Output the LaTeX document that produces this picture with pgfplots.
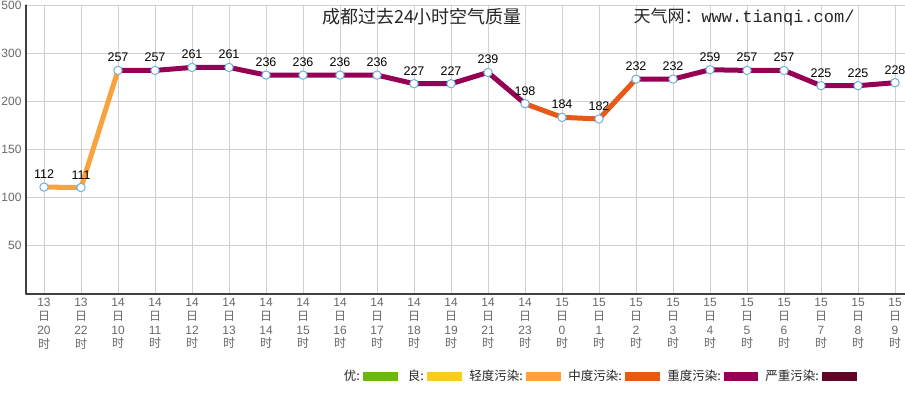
\documentclass[border=0pt]{standalone}
\usepackage{pgfplots}
\pgfplotsset{compat=1.18}
\usepackage{pgfplotstable}
\usepackage{fontspec}
\setmainfont{Liberation Sans}
\newfontfamily\cjk{Noto Sans CJK SC}
\newfontfamily\mono{Liberation Mono}
\definecolor{cGood}{RGB}{108,184,16}
\definecolor{cMod}{RGB}{250,204,30}
\definecolor{cLight}{RGB}{250,162,62}
\definecolor{cMid}{RGB}{232,88,22}
\definecolor{cHeavy}{RGB}{150,0,84}
\definecolor{cSevere}{RGB}{96,6,34}
\definecolor{cMark}{RGB}{110,176,222}
\definecolor{cTick}{RGB}{105,105,105}
\newcommand{\tl}[2]{#1\\{\cjk 日}\\#2\\{\cjk 时}}
% x: slot, y: plotted level, aqi: value label
\pgfplotstableread{
x y aqi
0 111 112
1 110.5 111
2 264.2 257
3 264.2 257
4 270.4 261
5 270.4 261
6 254.5 236
7 254.5 236
8 254.5 236
9 254.5 236
10 236.6 227
11 236.6 227
12 260 239
13 197.6 198
14 183.4 184
15 181.7 182
16 246.2 232
17 246.2 232
18 265.6 259
19 264.2 257
20 264.2 257
21 232.5 225
22 232.5 225
23 238.7 228
}\data
\begin{document}
\begin{tikzpicture}[x=1pt,y=1pt]
\fill[white] (0,0) rectangle (905,397);
\path[use as bounding box] (0,0) rectangle (905,397);
\begin{axis}[
  at={(26pt,103pt)}, anchor=south west,
  scale only axis, width=879pt, height=289pt,
  xmin=-0.4865, xmax=23.27,
  ymin=0, ymax=500,
  y coord trafo/.code={\pgfmathparse{(#1>300)?(5+(#1-300)/200):((#1>200)?(4+(#1-200)/100):(#1/50))}},
  ytick={50,100,150,200,300,500},
  yticklabels={50,100,150,200,300,500},
  xtick={0,...,23},
  xticklabels={\tl{13}{20},\tl{13}{22},\tl{14}{10},\tl{14}{11},\tl{14}{12},\tl{14}{13},\tl{14}{14},\tl{14}{15},\tl{14}{16},\tl{14}{17},\tl{14}{18},\tl{14}{19},\tl{14}{21},\tl{14}{23},\tl{15}{0},\tl{15}{1},\tl{15}{2},\tl{15}{3},\tl{15}{4},\tl{15}{5},\tl{15}{6},\tl{15}{7},\tl{15}{8},\tl{15}{9}},
  xticklabel style={align=center, font=\fontsize{12}{13.7}\selectfont, text=cTick, yshift=-1pt},
  yticklabel style={font=\fontsize{12}{13}\selectfont, text=cTick, xshift=-1pt},
  major tick length=0pt,
  xmajorgrids, ymajorgrids,
  grid style={draw=black!18, line width=0.9pt},
  axis x line*=bottom, axis y line*=left,
  axis line style={-, draw=black!75, line width=1.3pt},
  clip=false,
  line join=round, line cap=round,
]
\addplot[cLight, line width=5pt, no marks, restrict x to domain=0:2] table[x=x,y=y]{\data};
\addplot[cHeavy, line width=5pt, no marks, restrict x to domain=2:13] table[x=x,y=y]{\data};
\addplot[cMid, line width=5pt, no marks, restrict x to domain=13:16] table[x=x,y=y]{\data};
\addplot[cHeavy, line width=5pt, no marks, restrict x to domain=16:23] table[x=x,y=y]{\data};
\addplot[only marks, mark=*, mark size=4.2pt, mark options={fill=white, draw=cMark, line width=1pt},
  point meta=explicit symbolic, nodes near coords,
  every node near coord/.append style={font=\fontsize{12.5}{14}\selectfont, text=black, yshift=4.5pt}]
  table[x=x,y=y,meta=aqi]{\data};
\end{axis}
% title
\node[font=\cjk\fontsize{18}{20}\selectfont, text=black!85] at (422,380) {成都过去24小时空气质量};
\node[anchor=west, font=\fontsize{17}{20}\selectfont, text=black!85] at (630,380) {{\cjk 天气网：}{\mono www.tianqi.com/}};
% legend
\begin{scope}[every node/.style={anchor=east, font=\cjk\fontsize{12.5}{14}\selectfont, text=black!85, inner sep=1pt}]
\node at (361,21) {优:};
\fill[cGood] (363,16) rectangle (398,25);
\node at (425,21) {良:};
\fill[cMod] (427,16) rectangle (462,25);
\node at (524,21) {轻度污染:};
\fill[cLight] (526,16) rectangle (561,25);
\node at (623,21) {中度污染:};
\fill[cMid] (625,16) rectangle (660,25);
\node at (722,21) {重度污染:};
\fill[cHeavy] (724,16) rectangle (758,25);
\node at (820,21) {严重污染:};
\fill[cSevere] (822,16) rectangle (857,25);
\end{scope}
\end{tikzpicture}
\end{document}
